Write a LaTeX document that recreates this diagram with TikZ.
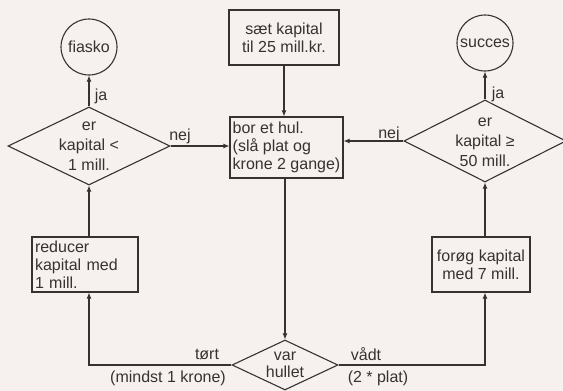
\documentclass[tikz,border=0pt]{standalone}
\usepackage{fontspec}
\setmainfont{Liberation Sans}
\usetikzlibrary{arrows.meta,shapes.geometric,calc}
\definecolor{bgc}{RGB}{246,240,238}
\definecolor{ink}{RGB}{55,50,50}
\begin{document}
\begin{tikzpicture}[x=1pt,y=-1pt,
  every node/.style={font=\fontsize{16}{18}\selectfont, text=ink},
  boxnode/.style={draw=ink, line width=1.1pt, rectangle, inner sep=2pt, align=center},
  dianode/.style={draw=ink, line width=1.1pt, diamond, shape aspect=2, inner sep=0pt},
  diatext/.style={align=center, inner sep=0pt, font=\fontsize{16}{20}\selectfont},
  endnode/.style={draw=ink, line width=1.1pt, circle, minimum size=56pt, inner sep=0pt},
  lbl/.style={inner sep=1pt},
  arr/.style={draw=ink, line width=1.1pt, -{Latex[length=6pt,width=5pt]}},
  ln/.style={draw=ink, line width=1.1pt}]
\fill[bgc] (0,0) rectangle (563,391);
\useasboundingbox (0,0) rectangle (563,391);

\node[boxnode, minimum width=110pt, minimum height=55pt] (start) at (284,37.5) {sæt kapital\\til 25 mill.kr.};
\node[boxnode, minimum width=113pt, minimum height=61pt, align=left] (bor) at (286.5,147.5) {bor et hul.\\(slå plat og\\krone 2 gange)};
\node[dianode, minimum width=162pt, minimum height=78pt] (ldia) at (89,146) {};
\node[diatext] (ldiat) at (89,146) {er\\kapital <\\1 mill.};
\node[dianode, minimum width=162pt, minimum height=82pt] (rdia) at (485,141) {};
\node[diatext] (rdiat) at (485,142) {er\\kapital ≥\\50 mill.};
\node[endnode] (fiasko) at (89,47) {fiasko};
\node[endnode] (succes) at (485,43) {succes};
\node[boxnode, minimum width=106pt, minimum height=55pt, text width=100pt, align=left] (red) at (85,264.5) {reducer\\kapital med\\1 mill.};
\node[boxnode, minimum width=98pt, minimum height=55pt] (forog) at (481,264.5) {forøg kapital\\med 7 mill.};
\node[dianode, minimum width=106pt, minimum height=50pt] (var) at (285,365) {};
\node[diatext, font=\fontsize{16}{17}\selectfont] (vart) at (285,365) {var\\hullet};

\draw[arr] (start.south) -- (start.south |- bor.north);
\draw[arr] (bor.south -| var.north) -- (var.north);
\draw[arr] (ldia.east) -- (ldia.east -| bor.west);
\draw[arr] (rdia.west) -- (rdia.west -| bor.east);
\draw[arr] (ldia.north) -- (fiasko.south);
\draw[arr] (rdia.north) -- (succes.south);
\draw[arr] (var.west) -| (ldia.south |- red.south);
\draw[arr] (ldia.south |- red.north) -- (ldia.south);
\draw[arr] (var.east) -| (rdia.south |- forog.south);
\draw[arr] (rdia.south |- forog.north) -- (rdia.south);

\node[lbl] (ja1) at (101,96) {ja};
\node[lbl] (ja2) at (498,94) {ja};
\node[lbl] (nej1) at (180,136) {nej};
\node[lbl] (nej2) at (389,134) {nej};
\node[lbl] (tort) at (207,354) {tørt};
\node[lbl] (mindst) at (168,378) {(mindst 1 krone)};
\node[lbl] (vadt) at (366,354) {vådt};
\node[lbl] (plat) at (378,378) {(2 * plat)};
\end{tikzpicture}
\end{document}
